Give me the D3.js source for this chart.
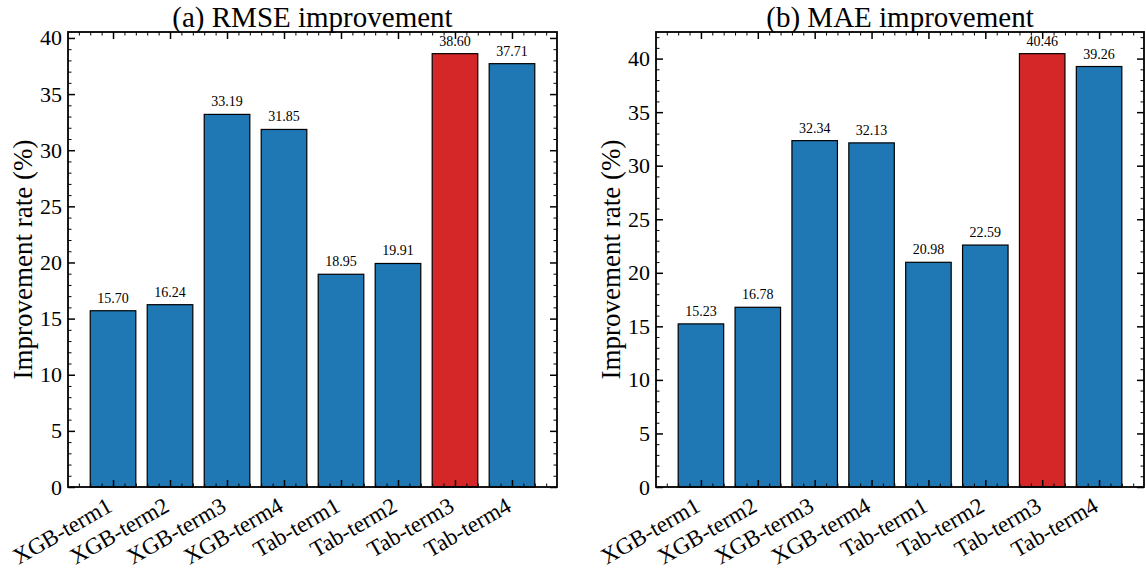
<!DOCTYPE html>
<html>
<head>
<meta charset="utf-8">
<script src="https://cdn.jsdelivr.net/npm/d3@7"></script>
<style>
body { margin: 0; background: #fff; }
svg text { font-family: "Liberation Serif", "Times New Roman", serif; fill: #000; }
</style>
</head>
<body>
<div id="container"></div>
<script>
// data
var categories = ['XGB-term1', 'XGB-term2', 'XGB-term3', 'XGB-term4', 'Tab-term1', 'Tab-term2', 'Tab-term3', 'Tab-term4'];
var rmseValues = [15.70, 16.24, 33.19, 31.85, 18.95, 19.91, 38.60, 37.71];
var maeValues = [15.23, 16.78, 32.34, 32.13, 20.98, 22.59, 40.46, 39.26];
var panelTitles = ['(a) RMSE improvement', '(b) MAE improvement'];
var yLabel = 'Improvement rate (%)';

// size of the svg and the two plot boxes
var width = 1146, height = 577;
var plotTop = 32, plotBottom = 487;
var boxes = [{left: 68, right: 557}, {left: 656, right: 1144}];

var blue = '#1f77b4', red = '#d62728';

var svg = d3.select('#container').append('svg')
	.attr('width', width)
	.attr('height', height);

function drawPanel(box, values, title) {

	var maxVal = d3.max(values);

	// matplotlib-like limits: bars at i +- 0.4, 5% margins
	var x = d3.scaleLinear().domain([-0.79, 7.79]).range([box.left, box.right]);
	var y = d3.scaleLinear().domain([0, maxVal * 1.05]).range([plotBottom, plotTop]);

	var g = svg.append('g');

	// bars
	g.selectAll('.bar')
		.data(values).enter()
		.append('rect')
			.attr('class', 'bar')
			.attr('x', function(d, i) { return x(i - 0.4); })
			.attr('width', x(0.4) - x(-0.4))
			.attr('y', function(d) { return y(d); })
			.attr('height', function(d) { return y(0) - y(d); })
			.style('fill', function(d) { return d === maxVal ? red : blue; })
			.style('stroke', '#000')
			.style('stroke-width', 1.2);

	// value labels over the bars
	g.selectAll('.vlabel')
		.data(values).enter()
		.append('text')
			.attr('class', 'vlabel')
			.attr('x', function(d, i) { return x(i); })
			.attr('y', function(d) { return y(d) - 8; })
			.style('text-anchor', 'middle')
			.style('font-size', '14px')
			.text(function(d) { return d3.format('.2f')(d); });

	// tick positions
	var xMajor = d3.range(categories.length);
	var xMinor = d3.range(-3, 39).filter(function(k) { return k % 5 != 0; }).map(function(k) { return k / 5; });
	var yMax = Math.floor(maxVal * 1.05);
	var yMajor = d3.range(0, yMax + 1, 5);
	var yMinor = d3.range(0, yMax + 1).filter(function(k) { return k % 5 != 0; });

	function clean(sel) {
		sel.select('.domain').remove();
		sel.attr('font-family', null).attr('font-size', null);
		sel.selectAll('line').style('stroke', '#000');
	}

	// bottom axis with category labels
	var bottomAxis = g.append('g')
		.attr('transform', 'translate(0,' + plotBottom + ')')
		.call(d3.axisBottom(x).tickValues(xMajor).tickSize(-7).tickFormat(function(i) { return categories[i]; }))
		.call(clean);
	bottomAxis.selectAll('line').style('stroke-width', 1.5);
	bottomAxis.selectAll('text')
		.attr('x', 0)
		.attr('y', 0)
		.attr('dy', '0.71em')
		.attr('transform', 'translate(-8,9) rotate(-30)')
		.style('text-anchor', 'end')
		.style('font-size', '23px');

	g.append('g')
		.attr('transform', 'translate(0,' + plotBottom + ')')
		.call(d3.axisBottom(x).tickValues(xMinor).tickSize(-3.5).tickFormat(''))
		.call(clean);

	// top axis
	g.append('g')
		.attr('transform', 'translate(0,' + plotTop + ')')
		.call(d3.axisTop(x).tickValues(xMajor).tickSize(-7).tickFormat(''))
		.call(clean)
		.selectAll('line').style('stroke-width', 1.5);
	g.append('g')
		.attr('transform', 'translate(0,' + plotTop + ')')
		.call(d3.axisTop(x).tickValues(xMinor).tickSize(-3.5).tickFormat(''))
		.call(clean);

	// left axis
	var leftAxis = g.append('g')
		.attr('transform', 'translate(' + box.left + ',0)')
		.call(d3.axisLeft(y).tickValues(yMajor).tickSize(-7).tickPadding(6))
		.call(clean);
	leftAxis.selectAll('line').style('stroke-width', 1.5);
	leftAxis.selectAll('text').style('font-size', '22px');
	g.append('g')
		.attr('transform', 'translate(' + box.left + ',0)')
		.call(d3.axisLeft(y).tickValues(yMinor).tickSize(-3.5).tickFormat(''))
		.call(clean);

	// right axis
	g.append('g')
		.attr('transform', 'translate(' + box.right + ',0)')
		.call(d3.axisRight(y).tickValues(yMajor).tickSize(-7).tickFormat(''))
		.call(clean)
		.selectAll('line').style('stroke-width', 1.5);
	g.append('g')
		.attr('transform', 'translate(' + box.right + ',0)')
		.call(d3.axisRight(y).tickValues(yMinor).tickSize(-3.5).tickFormat(''))
		.call(clean);

	// frame
	g.append('rect')
		.attr('x', box.left)
		.attr('y', plotTop)
		.attr('width', box.right - box.left)
		.attr('height', plotBottom - plotTop)
		.style('fill', 'none')
		.style('stroke', '#000')
		.style('stroke-width', 1.8);

	// title
	g.append('text')
		.attr('x', (box.left + box.right) / 2)
		.attr('y', 26.5)
		.style('text-anchor', 'middle')
		.style('font-size', '29px')
		.text(title);

	// y label
	g.append('text')
		.attr('transform', 'translate(' + (box.left - 36) + ',' + ((plotTop + plotBottom) / 2) + ') rotate(-90)')
		.style('text-anchor', 'middle')
		.style('font-size', '27px')
		.text(yLabel);
}

drawPanel(boxes[0], rmseValues, panelTitles[0]);
drawPanel(boxes[1], maeValues, panelTitles[1]);
</script>
</body>
</html>
